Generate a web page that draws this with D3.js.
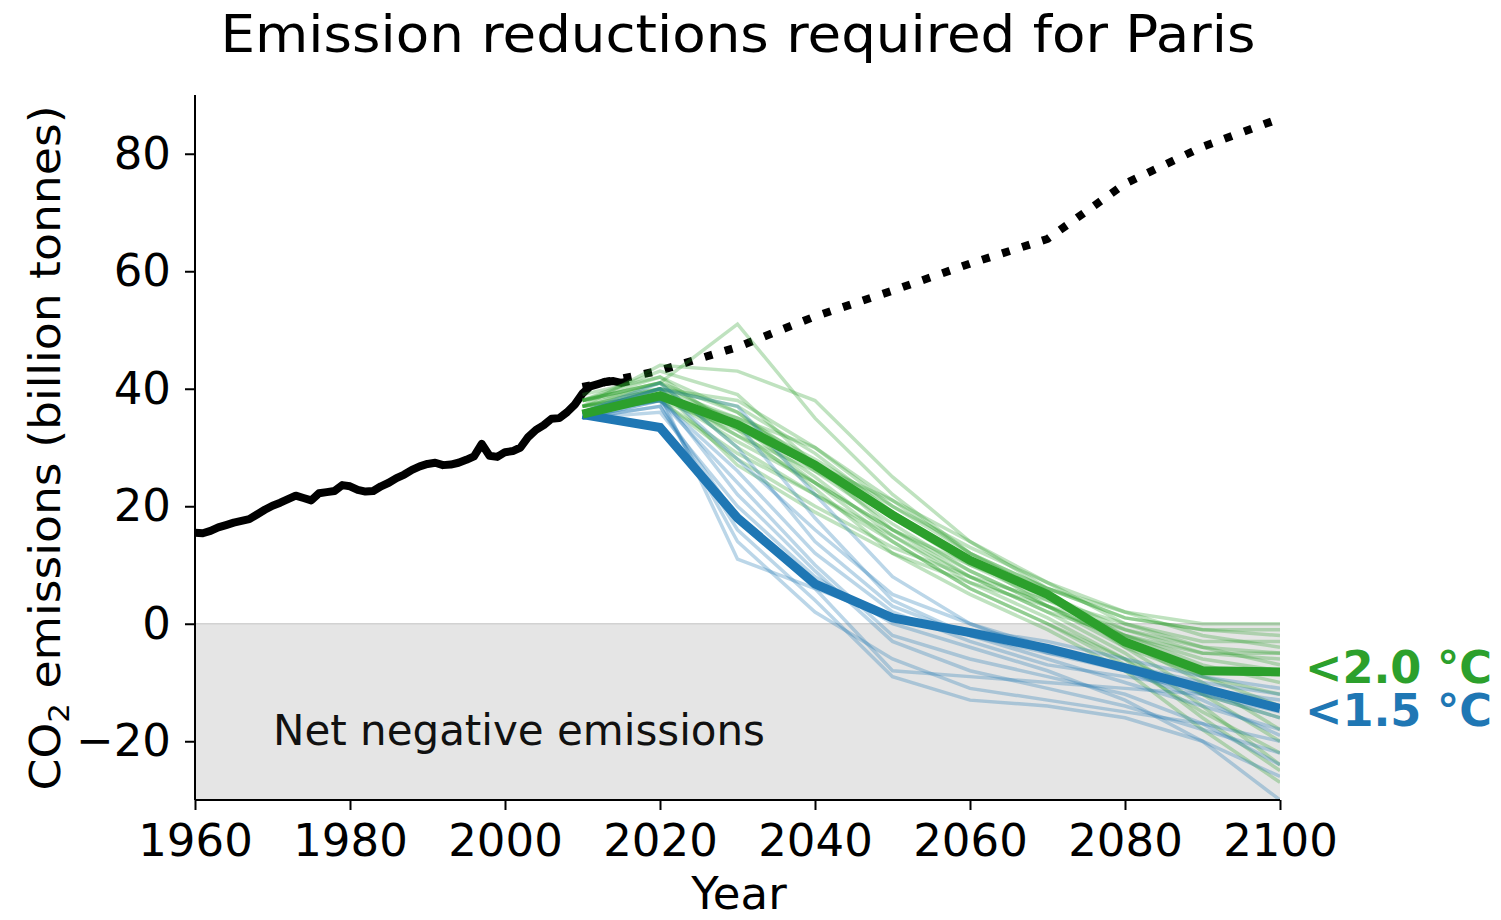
<!DOCTYPE html>
<html>
<head>
<meta charset="utf-8">
<script src="https://cdn.jsdelivr.net/npm/d3@7"></script>
<style>
  body { margin: 0; background: #fff; }
  svg text { font-family: "DejaVu Sans", sans-serif; }
</style>
</head>
<body>
<svg id="chart" width="1501" height="920"></svg>
<script>
// historical emissions 1960-2016
const histYears = d3.range(1960, 2017);
const histValues = [15.5, 15.4, 15.8, 16.4, 16.8, 17.2, 17.5, 17.8, 18.6, 19.4,
  20.1, 20.6, 21.2, 21.8, 21.4, 21.0, 22.2, 22.4, 22.6, 23.6,
  23.4, 22.8, 22.5, 22.6, 23.4, 24.0, 24.8, 25.4, 26.2, 26.8,
  27.2, 27.4, 27.0, 27.1, 27.4, 27.9, 28.5, 30.6, 28.6, 28.4,
  29.2, 29.4, 30.0, 31.8, 33.0, 33.8, 34.9, 35.0, 36.0, 37.3,
  39.2, 40.4, 40.8, 41.2, 41.3, 41.0, 41.3];

// scenario years
const scenYears = [2010, 2020, 2030, 2040, 2050, 2060, 2070, 2080, 2090, 2100];
const baseline = [40.3, 43.1, 47.1, 52.3, 56.7, 61.3, 65.5, 74.9, 81.2, 86.0];
const mean20 = [35.7, 38.8, 33.9, 27.0, 18.5, 10.8, 5.0, -3.1, -8.0, -8.2];
const mean15 = [35.6, 33.4, 18.0, 6.8, 1.0, -1.5, -4.2, -7.5, -11.0, -14.4];

const green20 = [
  [38, 41, 51, 35, 22, 12, 6, 1, -1, -2],
  [37, 44, 43, 38, 25, 14, 6, 1, -1, -1],
  [36, 40, 38, 30, 20, 12, 6, 2, 0, 0],
  [39, 42, 36, 27, 18, 10, 4, -2, -6, -8],
  [36, 39, 35, 28, 20, 13, 7, 2, -2, -4],
  [37, 40, 32, 24, 16, 9, 3, -3, -10, -18],
  [38, 41, 30, 22, 15, 8, 2, -5, -14, -24],
  [36, 38, 29, 22, 14, 6, 0, -7, -15, -22],
  [37, 39, 34, 25, 15, 7, 1, -6, -12, -16],
  [38, 42, 33, 23, 12, 5, -1, -8, -18, -27],
  [36, 40, 37, 29, 19, 11, 5, -1, -5, -6],
  [37, 38, 28, 20, 13, 8, 4, 0, -3, -3],
  [38, 41, 36, 26, 17, 9, 3, -3, -9, -12],
  [36, 39, 31, 24, 16, 10, 5, -2, -7, -10],
  [37, 40, 35, 30, 21, 12, 5, -4, -12, -20],
  [38, 43, 39, 27, 16, 8, 2, -2, -5, -5],
  [36, 38, 33, 27, 21, 14, 7, 0, -4, -5],
  [37, 41, 34, 24, 14, 6, 0, -6, -16, -25],
  [38, 40, 27, 19, 12, 7, 3, -1, -4, -7],
  [37, 39, 32, 26, 19, 11, 3, -4, -9, -14]
];

const blue15 = [
  [36, 40, 37, 22, 8, 0, -5, -8, -12, -16],
  [36, 39, 11, 6, -8, -9, -10, -11, -12, -15],
  [35, 37, 16, 4, -9, -13, -14, -16, -20, -26],
  [36, 38, 24, 10, -2, -6, -9, -12, -17, -24],
  [35, 36, 20, 8, 0, -4, -8, -13, -20, -30],
  [36, 41, 30, 14, 3, -2, -6, -10, -14, -18],
  [35, 38, 26, 12, 2, -3, -7, -9, -11, -13],
  [36, 39, 22, 9, -3, -8, -11, -14, -18, -22],
  [35, 37, 18, 6, 1, -1, -3, -6, -9, -11],
  [36, 40, 28, 16, 5, 0, -4, -8, -13, -19],
  [35, 38, 14, 2, -6, -11, -13, -15, -17, -20],
  [36, 39, 34, 18, 4, -2, -5, -7, -10, -12]
];

const xTicks = [1960, 1980, 2000, 2020, 2040, 2060, 2080, 2100];
const yTicks = [-20, 0, 20, 40, 60, 80];

const GREEN = '#2ca02c';
const BLUE = '#1f77b4';

const svg = d3.select('#chart');
const margin = { left: 195, right: 221, top: 95, bottom: 120 };
const W = 1501, H = 920;

const x = d3.scaleLinear().domain([1960, 2100]).range([margin.left, W - margin.right]);
const y = d3.scaleLinear().domain([-30, 90]).range([H - margin.bottom, margin.top]);

// negative-emissions band
svg.append('rect')
  .attr('x', x(1960))
  .attr('y', y(0))
  .attr('width', x(2100) - x(1960))
  .attr('height', y(-30) - y(0))
  .attr('fill', '#e5e5e5');
svg.append('line')
  .attr('x1', x(1960)).attr('x2', x(2100))
  .attr('y1', y(0)).attr('y2', y(0))
  .attr('stroke', '#d2d2d2')
  .attr('stroke-width', 1.5);

svg.append('text')
  .attr('x', 273)
  .attr('y', 745)
  .attr('font-size', '42px')
  .attr('textLength', 492)
  .attr('lengthAdjust', 'spacingAndGlyphs')
  .attr('fill', '#111')
  .text('Net negative emissions');

const clip = svg.append('defs').append('clipPath').attr('id', 'plot-clip');
clip.append('rect')
  .attr('x', x(1960)).attr('y', y(90))
  .attr('width', x(2100) - x(1960)).attr('height', y(-30) - y(90));

const plot = svg.append('g').attr('clip-path', 'url(#plot-clip)');

const line = d3.line()
  .x(d => x(d[0]))
  .y(d => y(d[1]));

const pairs = vals => scenYears.map((yr, i) => [yr, vals[i]]);

// historical
plot.append('path')
  .datum(histYears.map((yr, i) => [yr, histValues[i]]))
  .attr('d', line)
  .attr('fill', 'none')
  .attr('stroke', '#000')
  .attr('stroke-width', 8)
  .attr('stroke-linejoin', 'round');

// baseline (dotted)
plot.append('path')
  .datum(pairs(baseline))
  .attr('d', line)
  .attr('fill', 'none')
  .attr('stroke', '#000')
  .attr('stroke-width', 8)
  .attr('stroke-dasharray', '8,13');

// individual scenarios
plot.selectAll('.g-thin')
  .data(green20)
  .enter()
  .append('path')
  .attr('class', 'g-thin')
  .attr('d', d => line(pairs(d)))
  .attr('fill', 'none')
  .attr('stroke', GREEN)
  .attr('stroke-opacity', 0.3)
  .attr('stroke-width', 3.5);

plot.selectAll('.b-thin')
  .data(blue15)
  .enter()
  .append('path')
  .attr('class', 'b-thin')
  .attr('d', d => line(pairs(d)))
  .attr('fill', 'none')
  .attr('stroke', BLUE)
  .attr('stroke-opacity', 0.3)
  .attr('stroke-width', 3.5);

// means
plot.append('path')
  .datum(pairs(mean15))
  .attr('d', line)
  .attr('fill', 'none')
  .attr('stroke', BLUE)
  .attr('stroke-width', 9);

plot.append('path')
  .datum(pairs(mean20))
  .attr('d', line)
  .attr('fill', 'none')
  .attr('stroke', GREEN)
  .attr('stroke-width', 9);

// axes
const xAxis = svg.append('g')
  .attr('transform', `translate(0,${y(-30)})`)
  .call(d3.axisBottom(x).tickValues(xTicks).tickFormat(d3.format('d')).tickSize(10).tickPadding(14));

const yAxis = svg.append('g')
  .attr('transform', `translate(${x(1960)},0)`)
  .call(d3.axisLeft(y).tickValues(yTicks).tickFormat(d => d < 0 ? '\u2212' + Math.abs(d) : d).tickSize(10).tickPadding(14));

[xAxis, yAxis].forEach(ax => {
  ax.select('.domain').attr('stroke', '#000').attr('stroke-width', 2);
  ax.selectAll('.tick line').attr('stroke', '#000').attr('stroke-width', 2);
  ax.selectAll('.tick text')
    .attr('font-family', '"DejaVu Sans", sans-serif')
    .attr('font-size', '45px')
    .attr('fill', '#000');
});
// drop the end caps d3 draws on the domain path
xAxis.select('.domain').attr('d', `M${x(1960)},0H${x(2100)}`);
yAxis.select('.domain').attr('d', `M0,${y(-30)}V${y(90)}`);

// labels
svg.append('text')
  .attr('x', 738)
  .attr('y', 52)
  .attr('text-anchor', 'middle')
  .attr('font-size', '52px')
  .attr('textLength', 1035)
  .attr('lengthAdjust', 'spacingAndGlyphs')
  .attr('fill', '#000')
  .text('Emission reductions required for Paris');

svg.append('text')
  .attr('x', 739)
  .attr('y', 909)
  .attr('text-anchor', 'middle')
  .attr('font-size', '45px')
  .attr('fill', '#000')
  .text('Year');

const ylab = svg.append('text')
  .attr('transform', `translate(60,${448}) rotate(-90)`)
  .attr('text-anchor', 'middle')
  .attr('font-size', '43px')
  .attr('textLength', 685)
  .attr('lengthAdjust', 'spacingAndGlyphs')
  .attr('fill', '#000');
ylab.append('tspan').text('CO');
ylab.append('tspan').attr('font-size', '29px').attr('dy', 9).text('2');
ylab.append('tspan').attr('dy', -9).text(' emissions (billion tonnes)');

svg.append('text')
  .attr('x', 1305)
  .attr('y', 683)
  .attr('font-size', '44px')
  .attr('font-weight', 'bold')
  .attr('textLength', 187)
  .attr('lengthAdjust', 'spacingAndGlyphs')
  .attr('fill', GREEN)
  .text('<2.0 °C');

svg.append('text')
  .attr('x', 1305)
  .attr('y', 726)
  .attr('font-size', '44px')
  .attr('font-weight', 'bold')
  .attr('textLength', 187)
  .attr('lengthAdjust', 'spacingAndGlyphs')
  .attr('fill', BLUE)
  .text('<1.5 °C');
</script>
</body>
</html>
